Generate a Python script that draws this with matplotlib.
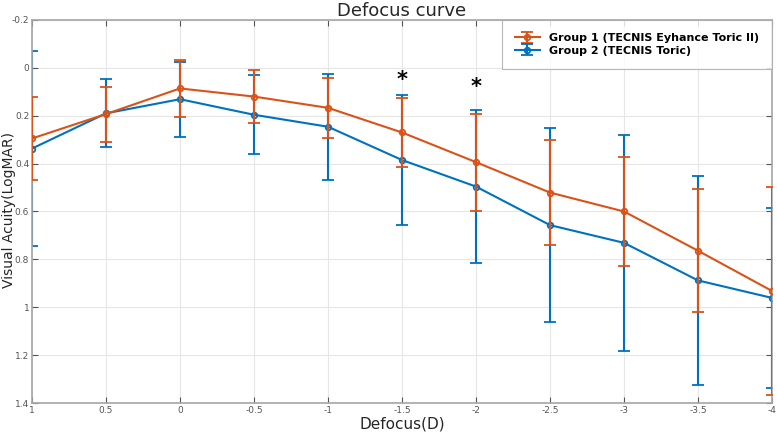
import matplotlib.pyplot as plt
import numpy as np

# defocus (D) and visual acuity (LogMAR), mean and SD per group
defocus = [1, 0.5, 0, -0.5, -1, -1.5, -2, -2.5, -3, -3.5, -4]
g1_mean = [0.295, 0.193, 0.086, 0.120, 0.167, 0.270, 0.394, 0.521, 0.600, 0.764, 0.932]
g1_sd = [0.173, 0.115, 0.118, 0.112, 0.125, 0.144, 0.202, 0.219, 0.227, 0.257, 0.435]
g2_mean = [0.337, 0.190, 0.131, 0.196, 0.246, 0.385, 0.496, 0.657, 0.731, 0.888, 0.961]
g2_sd = [0.407, 0.142, 0.156, 0.165, 0.222, 0.271, 0.318, 0.405, 0.450, 0.435, 0.375]
g1_label = 'Group 1 (TECNIS Eyhance Toric II)'
g2_label = 'Group 2 (TECNIS Toric)'

# significance marks
star_x = [-1.5, -2]
star_y = [0.05, 0.078]

orange = '#D95319'
blue = '#0072BD'

fig = plt.figure(figsize=(7.77, 4.34), dpi=100)
ax = fig.add_axes([0.0412, 0.0714, 0.9524, 0.8826])

ax.errorbar(defocus, g1_mean, yerr=g1_sd, color=orange, lw=1.5, marker='o', ms=4,
            mfc='none', mew=1.3, capsize=4, capthick=1.5, elinewidth=1.5, label=g1_label, zorder=3)
ax.errorbar(defocus, g2_mean, yerr=g2_sd, color=blue, lw=1.5, marker='o', ms=4,
            mfc='none', mew=1.3, capsize=4, capthick=1.5, elinewidth=1.5, label=g2_label, zorder=2)

for sx, sy in zip(star_x, star_y):
    ax.text(sx, sy, '*', ha='center', va='center', fontsize=15, fontweight='bold', color='k')

ax.set_xlim(1, -4)
ax.set_ylim(1.4, -0.2)
ax.set_xticks(np.arange(1, -4.01, -0.5))
ax.set_xticklabels(['1', '0.5', '0', '-0.5', '-1', '-1.5', '-2', '-2.5', '-3', '-3.5', '-4'])
ax.set_yticks(np.arange(-0.2, 1.41, 0.2))
ax.set_yticklabels(['-0.2', '0', '0.2', '0.4', '0.6', '0.8', '1', '1.2', '1.4'])

ax.grid(True, color='#e6e6e6', lw=0.8)
ax.set_axisbelow(True)
ax.tick_params(direction='in', top=True, right=True, length=4, width=0.8,
               labelsize=6.5, colors='#555555', pad=2)
for s in ax.spines.values():
    s.set_color('#a6a6a6')
    s.set_linewidth(1.2)

ax.set_xlabel('Defocus(D)', fontsize=11, color='#262626', labelpad=1)
fig.text(0.011, 0.515, 'Visual Acuity(LogMAR)', rotation=90, ha='center', va='center',
         fontsize=10, color='#262626')
ax.set_title('Defocus curve', fontsize=13, color='#262626', pad=3)

leg = ax.legend(loc='upper right', prop={'weight': 'bold', 'size': 8},
                frameon=True, fancybox=False, edgecolor='#a6a6a6', borderaxespad=0,
                handlelength=2.2, labelspacing=0.2, borderpad=1.2)
leg.get_frame().set_linewidth(0.8)

plt.savefig('out.png', dpi=100)
